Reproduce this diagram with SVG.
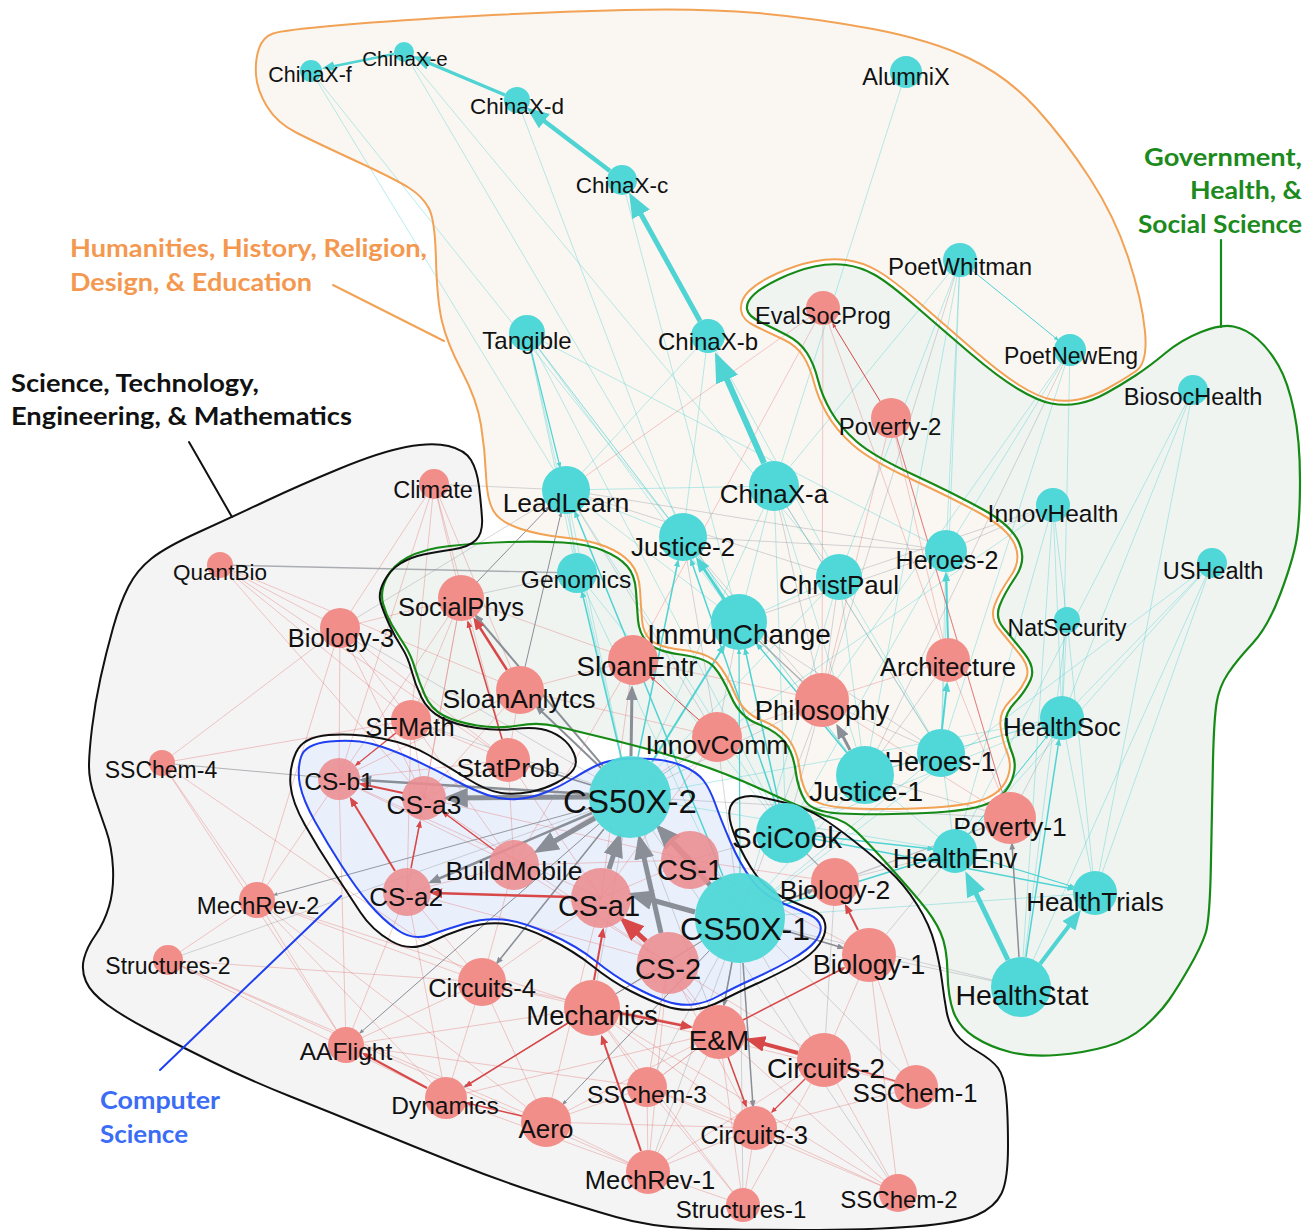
<svg xmlns="http://www.w3.org/2000/svg" xmlns:xlink="http://www.w3.org/1999/xlink" width="1303" height="1230" viewBox="0 0 1303 1230">
<defs>
<marker id="at" viewBox="0 0 10 8" refX="7.5" refY="4" markerWidth="5" markerHeight="4" orient="auto" markerUnits="strokeWidth"><path d="M0,0L10,4L0,8z" fill="#4fd3d3"/></marker>
<marker id="ag" viewBox="0 0 10 8" refX="7.5" refY="4" markerWidth="5" markerHeight="4" orient="auto" markerUnits="strokeWidth"><path d="M0,0L10,4L0,8z" fill="#8a8e96"/></marker>
<marker id="ar" viewBox="0 0 10 8" refX="7.5" refY="4" markerWidth="5" markerHeight="4" orient="auto" markerUnits="strokeWidth"><path d="M0,0L10,4L0,8z" fill="#d84848"/></marker>
<path id="p-hum" d="M273,33.5 Q283,30 341.5,25 Q400,20 475,16 Q550,12 625,10 Q700,8 757.5,13 Q815,18 873,29 Q931,40 969.5,58.5 Q1008,77 1036.5,108.5 Q1065,140 1090,178.5 Q1115,217 1128.5,258.5 Q1142,300 1145,331.5 Q1148,363 1135.5,371.5 Q1123,380 1107.5,388.5 Q1092,397 1078.5,399.5 Q1065,402 1051.5,399.5 Q1038,397 1019,385 Q1000,373 973,349.5 Q946,326 919,302.5 Q892,279 877,270.5 Q862,262 846.5,260 Q831,258 813.5,261.5 Q796,265 777,273.5 Q758,282 749,291 Q740,300 741,310 Q742,320 756,326.5 Q770,333 783.5,339.5 Q797,346 803.5,356.5 Q810,367 814,382.5 Q818,398 827,414 Q836,430 853,445 Q870,460 911,479 Q952,498 979.5,513 Q1007,528 1014.5,544 Q1022,560 1010.5,576.5 Q999,593 994.5,605.5 Q990,618 999,629 Q1008,640 1019.5,654 Q1031,668 1026,679 Q1021,690 1010,701 Q999,712 1000.5,726 Q1002,740 1007.5,753.5 Q1013,767 1006,781 Q999,795 979,801 Q959,807 914,808.5 Q869,810 842,807.5 Q815,805 808.5,796 Q802,787 799.5,768.5 Q797,750 788,738.5 Q779,727 761,720 Q743,713 734.5,693 Q726,673 717,663 Q708,653 683,650 Q658,647 650.5,640 Q643,633 642,620 Q641,607 640,590 Q639,573 630.5,563 Q622,553 605.5,546.5 Q589,540 564,537.5 Q539,535 519.5,528.5 Q500,522 493.5,511 Q487,500 486,475 Q485,450 481,425 Q477,400 462,371.5 Q447,343 442,321.5 Q437,300 436,260 Q435,220 429,208.5 Q423,197 410,188.5 Q397,180 357,161.5 Q317,143 297,133 Q277,123 267,106.5 Q257,90 256,75 Q255,60 259,48.5 Q263,37 273,33.5 Z"/>
<path id="p-gov" d="M557.5,726.5 Q539,722 518.5,725.5 Q498,729 477,725.5 Q456,722 443.5,715.5 Q431,709 425,695.5 Q419,682 415,668.5 Q411,655 404.5,645 Q398,635 392,625 Q386,615 383,603.5 Q380,592 386,579 Q392,566 407.5,557.5 Q423,549 450,546 Q477,543 508,542 Q539,541 563,542.5 Q587,544 603,550.5 Q619,557 627,566 Q635,575 636,591 Q637,607 638,620 Q639,633 647,642 Q655,651 680.5,654.5 Q706,658 714,667 Q722,676 731,696.5 Q740,717 758,724 Q776,731 784.5,741.5 Q793,752 795.5,770.5 Q798,789 805,800.5 Q812,812 840.5,813.5 Q869,815 914.5,813.5 Q960,812 981,806 Q1002,800 1010,784 Q1018,768 1012.5,754 Q1007,740 1005.5,727 Q1004,714 1014.5,703 Q1025,692 1030.5,680 Q1036,668 1024,653 Q1012,638 1003.5,628 Q995,618 999.5,606 Q1004,594 1015.5,577 Q1027,560 1019,542.5 Q1011,525 983,509.5 Q955,494 914,475 Q873,456 856.5,441.5 Q840,427 831,411.5 Q822,396 818,380 Q814,364 807,353 Q800,342 786.5,335 Q773,328 760.5,322 Q748,316 747,309 Q746,302 754,294.5 Q762,287 780,278.5 Q798,270 814.5,266.5 Q831,263 846,265 Q861,267 875,275 Q889,283 916,306.5 Q943,330 970.5,353.5 Q998,377 1018,389 Q1038,401 1051.5,403.5 Q1065,406 1078.5,403.5 Q1092,401 1106.5,393 Q1121,385 1135.5,375.5 Q1150,366 1165.5,353 Q1181,340 1201,332 Q1221,324 1233.5,326.5 Q1246,329 1257.5,339 Q1269,349 1278.5,365.5 Q1288,382 1294,411 Q1300,440 1300,480 Q1300,520 1296.5,540 Q1293,560 1280.5,593.5 Q1268,627 1252.5,643.5 Q1237,660 1228,673.5 Q1219,687 1216.5,703.5 Q1214,720 1213,760 Q1212,800 1211,860 Q1210,920 1205.5,933.5 Q1201,947 1189.5,967 Q1178,987 1169,1000 Q1160,1013 1144.5,1026.5 Q1129,1040 1106.5,1046.5 Q1084,1053 1057,1055 Q1030,1057 1010,1052 Q990,1047 974.5,1037 Q959,1027 953.5,1012 Q948,997 947.5,972 Q947,947 940.5,932.5 Q934,918 920.5,902 Q907,886 889.5,866.5 Q872,847 858.5,833.5 Q845,820 830,817 Q815,814 769.5,793 Q724,772 687,760.5 Q650,749 613,740 Q576,731 557.5,726.5 Z"/>
<path id="p-stem" d="M199,532 Q232,517 266,501 Q300,485 340,468.5 Q380,452 406,447 Q432,442 448.5,446 Q465,450 471,460 Q477,470 479,486.5 Q481,503 482,518 Q483,533 476,540 Q469,547 452.5,549.5 Q436,552 423.5,554.5 Q411,557 400.5,563.5 Q390,570 384,581.5 Q378,593 380.5,602 Q383,611 389,624 Q395,637 401.5,647 Q408,657 411.5,670.5 Q415,684 421.5,697.5 Q428,711 442,718 Q456,725 477,728 Q498,731 514,729 Q530,727 541,729 Q552,731 561,737.5 Q570,744 574,753.5 Q578,763 573.5,769.5 Q569,776 557,782.5 Q545,789 530,792 Q515,795 501,793 Q487,791 467,778.5 Q447,766 428.5,755 Q410,744 382,738.5 Q354,733 328.5,735 Q303,737 296,752.5 Q289,768 290.5,785 Q292,802 305,825 Q318,848 333.5,871.5 Q349,895 360.5,912.5 Q372,930 391,941 Q410,952 428.5,943 Q447,934 465.5,928 Q484,922 502.5,923.5 Q521,925 547.5,938 Q574,951 592.5,966 Q611,981 630.5,991 Q650,1001 665,1006 Q680,1011 694,1009.5 Q708,1008 721,1001 Q734,994 756,984 Q778,974 795,964.5 Q812,955 819.5,944 Q827,933 825,923.5 Q823,914 811.5,909.5 Q800,905 783.5,897.5 Q767,890 756,875 Q745,860 736.5,840 Q728,820 729.5,810.5 Q731,801 739.5,798 Q748,795 757,796.5 Q766,798 786,803 Q806,808 820.5,817 Q835,826 854,841 Q873,856 888.5,870 Q904,884 917,904.5 Q930,925 935,945 Q940,965 942,981 Q944,997 946.5,1011 Q949,1025 956,1034 Q963,1043 977.5,1051.5 Q992,1060 998,1068 Q1004,1076 1006,1094.5 Q1008,1113 1008,1146.5 Q1008,1180 1001.5,1193.5 Q995,1207 977,1215 Q959,1223 914,1226.5 Q869,1230 802,1230 Q735,1230 693,1228.5 Q651,1227 616,1217 Q581,1207 539.5,1193.5 Q498,1180 456.5,1163.5 Q415,1147 373.5,1130 Q332,1113 290.5,1096.5 Q249,1080 211.5,1061.5 Q174,1043 149,1030 Q124,1017 107.5,1005 Q91,993 86,981.5 Q81,970 84,958.5 Q87,947 95.5,935 Q104,923 109,906.5 Q114,890 113,868.5 Q112,847 106,830 Q100,813 94.5,796.5 Q89,780 89,766.5 Q89,753 92,728 Q95,703 100.5,678 Q106,653 113,628 Q120,603 128.5,586.5 Q137,570 151.5,558.5 Q166,547 199,532 Z"/>
<path id="p-cs" d="M301,757 Q305,744 329.5,741.5 Q354,739 372.5,744 Q391,749 413.5,759.5 Q436,770 454.5,780 Q473,790 487.5,795 Q502,800 517,799 Q532,798 546.5,792 Q561,786 574,778 Q587,770 596.5,765.5 Q606,761 619,759.5 Q632,758 650.5,759 Q669,760 683,766 Q697,772 703.5,780.5 Q710,789 715.5,804.5 Q721,820 730.5,842 Q740,864 751.5,879.5 Q763,895 781,902.5 Q799,910 809,914.5 Q819,919 820.5,926 Q822,933 815,941.5 Q808,950 791.5,959.5 Q775,969 753,979 Q731,989 718.5,996 Q706,1003 693,1004.5 Q680,1006 665.5,1001 Q651,996 632.5,986 Q614,976 595.5,961 Q577,946 549,933.5 Q521,921 502.5,919.5 Q484,918 465.5,923.5 Q447,929 430,935 Q413,941 397.5,930 Q382,919 369,903.5 Q356,888 341.5,865.5 Q327,843 315,821.5 Q303,800 300,785 Q297,770 301,757 Z"/>
<style>
.nt{fill:#50d7d7}
.ns{fill:#f28e8a}
.nc{fill:#ec8c8f;opacity:.88}
.lb{font-family:"Liberation Sans",Arial,Helvetica,sans-serif;fill:#111;text-anchor:middle}
.ft{stroke:#4fcfcf;stroke-width:.8;opacity:.5;fill:none}
.fr{stroke:#e05c5c;stroke-width:.8;opacity:.4;fill:none}
.fg{stroke:#8c9096;stroke-width:.8;opacity:.45;fill:none}
.pt{stroke:#4fd3d3;fill:none;marker-end:url(#at)}
.pr{stroke:#d84848;fill:none;marker-end:url(#ar)}
.pg{stroke:#8a8e96;fill:none;marker-end:url(#ag)}
.hull{stroke-linejoin:round;stroke-linecap:round}
.rl{font-family:Lato,"Open Sans","Noto Sans",sans-serif;font-weight:bold;font-size:25px}
</style>
</defs>
<rect width="1303" height="1230" fill="#ffffff"/>
<g id="hull-fills" stroke="none">
<use xlink:href="#p-stem" href="#p-stem" fill="#f4f4f4"/>
<use xlink:href="#p-gov" href="#p-gov" fill="#eff4f1"/>
<use xlink:href="#p-hum" href="#p-hum" fill="#faf7f3"/>
<use xlink:href="#p-cs" href="#p-cs" fill="#e9f0fb"/>
</g>
<g id="connectors">
<path class="ft" d="M527 333L683 537M527 333L739 622M527 333L786 833M527 333L577 573M527 333L630 797M527 333L865 775M311 71L566 490M311 71L683 537M404 52L839 577M404 52L739 622M517 100L683 537M622 180L739 622M708 336L839 577M708 336L683 537M708 336L566 490M906 72L774 486M960 260L946 551M960 260L941 753M960 260L774 486M960 260L865 775M960 260L839 577M1070 350L941 753M1070 350L1062 718M1070 350L822 700M1070 350L946 551M1193 390L1062 718M1193 390L955 851M1193 390L1095 893M1053 505L1062 718M1053 505L1067 620M1053 505L955 851M1053 505L1021 987M1212 563L1062 718M1212 563L1095 893M1212 563L955 851M1212 563L1021 987M1067 620L1062 718M1067 620L1021 987M1067 620L1095 893M1062 718L955 851M1062 718L1095 893M1062 718L786 833M683 537L566 490M739 622L566 490M774 486L566 490M630 797L566 490M786 833L566 490M774 486L739 622M839 577L739 622M865 775L774 486M941 753L774 486M630 797L774 486M786 833L774 486M941 753L946 551M941 753L839 577M865 775L683 537M865 775L839 577M740 918L865 775M630 797L955 851M786 833L865 775M865 775L955 851M941 753L1062 718M577 573L566 490M740 918L577 573M786 833L577 573M740 918L839 577M630 797L839 577M941 753L955 851M865 775L941 753M740 918L941 753M786 833L946 551M865 775L1062 718M740 918L1095 893M630 797L1062 718M740 918L1212 563M630 797L1053 505M527 333L946 551"/>
<path class="fr" d="M434 484L340 628M434 484L461 598M434 484L411 720M434 484L508 760M434 484L339 779M434 484L520 690M220 565L340 628M220 565L520 690M220 565L411 720M220 565L424 798M220 565L508 760M340 628L411 720M340 628L339 779M340 628L162 763M340 628L508 760M340 628L461 598M340 628L424 798M340 628L257 900M162 763L411 720M162 763L257 900M162 763L346 1045M162 763L482 982M257 900L339 779M257 900L168 960M257 900L346 1045M257 900L482 982M257 900L446 1098M257 900L592 1008M257 900L546 1122M168 960L446 1098M168 960L546 1122M168 960L648 1172M168 960L482 982M346 1045L407 892M346 1045L592 1008M346 1045L482 982M346 1045L647 1087M346 1045L339 779M446 1098L482 982M446 1098L407 892M446 1098L648 1172M446 1098L719 1032M546 1122L719 1032M546 1122L648 1172M546 1122L755 1128M546 1122L647 1087M546 1122L482 982M546 1122L601 898M648 1172L719 1032M648 1172L743 1205M648 1172L824 1060M648 1172L647 1087M648 1172L755 1128M648 1172L668 963M743 1205L755 1128M743 1205L719 1032M743 1205L592 1008M743 1205L824 1060M743 1205L647 1087M898 1193L824 1060M898 1193L869 955M898 1193L719 1032M898 1193L755 1128M898 1193L592 1008M898 1193L647 1087M916 1087L869 955M916 1087L719 1032M916 1087L755 1128M916 1087L592 1008M755 1128L592 1008M755 1128L668 963M647 1087L592 1008M647 1087L719 1032M647 1087L668 963M647 1087L755 1128M482 982L601 898M482 982L592 1008M482 982L407 892M482 982L719 1032M482 982L514 865M592 1008L668 963M719 1032L668 963M719 1032L601 898M719 1032L647 1087M824 1060L869 955M824 1060L668 963M869 955L740 918M869 955L690 860M835 882L690 860M411 720L339 779M411 720L461 598M411 720L508 760M411 720L424 798M411 720L407 892M411 720L514 865M508 760L520 690M508 760L339 779M508 760L424 798M508 760L514 865M508 760L601 898M461 598L633 660M461 598L339 779M461 598L407 892M461 598L424 798M520 690L633 660M520 690L424 798M520 690L339 779M633 660L601 898M633 660L514 865M717 737L601 898M717 737L514 865M717 737L520 690M822 700L717 737M822 700L633 660M948 660L822 700M1010 818L822 700M1010 818L948 660M1010 818L891 418M891 418L822 700M891 418L948 660M823 308L566 490M823 308L822 700M823 308L633 660M823 308L948 660M601 898L339 779M514 865L339 779M514 865L407 892M690 860L601 898M690 860L514 865M690 860L424 798M668 963L407 892M668 963L424 798M668 963L514 865"/>
<path class="fg" d="M340 628L630 797M340 628L566 490M434 484L566 490M577 573L461 598M566 490L946 551M683 537L946 551M774 486L941 753M960 260L822 700M1070 350L865 775M1053 505L946 551M1053 505L839 577M822 700L774 486M822 700L683 537M717 737L739 622M717 737L683 537M717 737L566 490M630 797L717 737M740 918L717 737M740 918L822 700M630 797L822 700M786 833L822 700M786 833L690 860M740 918L1010 818M630 797L1010 818M869 955L1021 987M740 918L1021 987M835 882L955 851M869 955L955 851M835 882L1010 818M824 1060L835 882M719 1032L740 918M592 1008L740 918M740 918L647 1087M740 918L824 1060M740 918L648 1172M630 797L592 1008M630 797L411 720M630 797L168 960M740 918L743 1205M630 797L755 1128M941 753L822 700M941 753L739 622M865 775L1010 818M1062 718L1010 818M865 775L948 660M946 551L739 622M839 577L822 700M566 490L839 577M630 797L898 1193M630 797L916 1087"/>
<line x1="220" y1="565" x2="577" y2="573" stroke="#8c9096" stroke-width="1.3" opacity=".7"/>
<line x1="162" y1="763" x2="339" y2="779" stroke="#8c9096" stroke-width="1.1" opacity=".65"/>
<line x1="822" y1="700" x2="739" y2="622" stroke="#8c9096" stroke-width="1.4" opacity=".7"/>
<line x1="786" y1="833" x2="835" y2="882" stroke="#8c9096" stroke-width="1.3" opacity=".7"/>
<g id="teal-edges">
<line class="pt" x1="764" y1="463" x2="718" y2="359" stroke-width="6"/>
<line class="pt" x1="700" y1="321" x2="632" y2="198" stroke-width="5"/>
<line class="pt" x1="610" y1="171" x2="531" y2="111" stroke-width="4.5"/>
<line class="pt" x1="505" y1="95" x2="417" y2="58" stroke-width="3.5"/>
<line class="pt" x1="394" y1="54" x2="325" y2="68" stroke-width="2.5"/>
<line class="pt" x1="1008" y1="960" x2="968" y2="877" stroke-width="5"/>
<line class="pt" x1="1040" y1="964" x2="1078" y2="914" stroke-width="4"/>
<line class="pt" x1="1026" y1="957" x2="1059" y2="740" stroke-width="1.5"/>
<line class="pt" x1="724" y1="599" x2="698" y2="560" stroke-width="3"/>
<line class="pt" x1="948" y1="638" x2="946" y2="574" stroke-width="2"/>
<line class="pt" x1="942" y1="729" x2="947" y2="684" stroke-width="2"/>
<line class="pt" x1="531" y1="350" x2="560" y2="467" stroke-width="1.2"/>
<line class="pt" x1="652" y1="762" x2="724" y2="646" stroke-width="2"/>
<line class="pt" x1="847" y1="753" x2="757" y2="644" stroke-width="1.5"/>
<line class="pt" x1="638" y1="757" x2="678" y2="561" stroke-width="1.5"/>
<line class="pt" x1="783" y1="905" x2="934" y2="858" stroke-width="1.5"/>
<line class="pt" x1="815" y1="839" x2="1073" y2="889" stroke-width="1.5"/>
<line class="pt" x1="816" y1="836" x2="933" y2="849" stroke-width="1.5"/>
<line class="pt" x1="973" y1="271" x2="1058" y2="340" stroke-width="1"/>
<line class="pt" x1="723" y1="876" x2="575" y2="512" stroke-width="1.5"/>
<line class="pt" x1="621" y1="757" x2="582" y2="592" stroke-width="1.5"/>
<line class="pt" x1="776" y1="805" x2="691" y2="560" stroke-width="1.5"/>
<line class="pt" x1="779" y1="804" x2="745" y2="649" stroke-width="1.5"/>
<line class="pt" x1="976" y1="857" x2="1074" y2="887" stroke-width="1.2"/>
<line class="pt" x1="740" y1="873" x2="739" y2="650" stroke-width="1.2"/>
<line class="pt" x1="969" y1="834" x2="1048" y2="735" stroke-width="1"/>
</g>
<g id="gray-edges">
<line class="pg" x1="589" y1="797" x2="449" y2="798" stroke-width="5"/>
<line class="pg" x1="589" y1="794" x2="362" y2="780" stroke-width="2.5"/>
<line class="pg" x1="595" y1="818" x2="539" y2="850" stroke-width="5"/>
<line class="pg" x1="592" y1="813" x2="431" y2="882" stroke-width="2.5"/>
<line class="pg" x1="690" y1="860" x2="660" y2="829" stroke-width="5"/>
<line class="pg" x1="609" y1="869" x2="619" y2="838" stroke-width="5"/>
<line class="pg" x1="710" y1="885" x2="660" y2="829" stroke-width="5"/>
<line class="pg" x1="661" y1="933" x2="640" y2="840" stroke-width="5"/>
<line class="pg" x1="695" y1="912" x2="634" y2="895" stroke-width="5"/>
<line class="pg" x1="850" y1="750" x2="838" y2="727" stroke-width="3"/>
<line class="pg" x1="631" y1="756" x2="632" y2="689" stroke-width="3"/>
<line class="pg" x1="603" y1="766" x2="476" y2="616" stroke-width="2"/>
<line class="pg" x1="601" y1="768" x2="537" y2="707" stroke-width="2"/>
<line class="pg" x1="599" y1="824" x2="360" y2="1033" stroke-width="1"/>
<line class="pg" x1="590" y1="808" x2="274" y2="895" stroke-width=".9"/>
<line class="pg" x1="604" y1="829" x2="497" y2="963" stroke-width="1.5"/>
<line class="pg" x1="743" y1="963" x2="753" y2="1106" stroke-width="1.5"/>
<line class="pg" x1="709" y1="951" x2="563" y2="1104" stroke-width="1"/>
<line class="pg" x1="702" y1="941" x2="464" y2="1087" stroke-width="1"/>
<line class="pg" x1="782" y1="902" x2="813" y2="890" stroke-width="1.5"/>
<line class="pg" x1="783" y1="930" x2="843" y2="948" stroke-width="1.5"/>
<line class="pg" x1="1019" y1="957" x2="1012" y2="844" stroke-width="1.5"/>
<line class="pg" x1="477" y1="582" x2="549" y2="507" stroke-width="1"/>
<line class="pg" x1="525" y1="667" x2="561" y2="513" stroke-width="1"/>
<line class="pg" x1="591" y1="785" x2="529" y2="766" stroke-width="1.5"/>
<line class="pg" x1="732" y1="962" x2="724" y2="1005" stroke-width="1.5"/>
</g>
<g id="red-edges">
<line class="pr" x1="798" y1="1053" x2="750" y2="1040" stroke-width="4"/>
<line class="pr" x1="646" y1="941" x2="624" y2="921" stroke-width="5"/>
<line class="pr" x1="594" y1="980" x2="603" y2="930" stroke-width="2"/>
<line class="pr" x1="641" y1="1151" x2="602" y2="1037" stroke-width="2"/>
<line class="pr" x1="427" y1="1088" x2="364" y2="1054" stroke-width="2"/>
<line class="pr" x1="568" y1="1023" x2="466" y2="1086" stroke-width="1.5"/>
<line class="pr" x1="858" y1="930" x2="846" y2="906" stroke-width="2"/>
<line class="pr" x1="502" y1="739" x2="468" y2="622" stroke-width="1.5"/>
<line class="pr" x1="507" y1="670" x2="475" y2="620" stroke-width="2.5"/>
<line class="pr" x1="699" y1="720" x2="651" y2="677" stroke-width="1"/>
<line class="pr" x1="571" y1="897" x2="433" y2="893" stroke-width="2.5"/>
<line class="pr" x1="395" y1="871" x2="351" y2="799" stroke-width="2"/>
<line class="pr" x1="411" y1="868" x2="420" y2="822" stroke-width="1.5"/>
<line class="pr" x1="403" y1="793" x2="361" y2="784" stroke-width="2"/>
<line class="pr" x1="620" y1="1013" x2="690" y2="1027" stroke-width="2.5"/>
<line class="pr" x1="880" y1="401" x2="833" y2="324" stroke-width="1"/>
<line class="pr" x1="522" y1="1116" x2="467" y2="1103" stroke-width="1.5"/>
<line class="pr" x1="728" y1="1057" x2="746" y2="1106" stroke-width="1.5"/>
<line class="pr" x1="805" y1="1079" x2="772" y2="1112" stroke-width="1.2"/>
<line class="pr" x1="743" y1="1020" x2="844" y2="968" stroke-width="1.5"/>
<line class="pr" x1="396" y1="733" x2="356" y2="765" stroke-width="1.2"/>
<line class="pr" x1="494" y1="850" x2="443" y2="812" stroke-width="1.5"/>
<line x1="916" y1="1087" x2="824" y2="1060" stroke="#d84848" stroke-width="1.5" opacity=".8"/>
<line x1="1010" y1="818" x2="891" y2="418" stroke="#d84848" stroke-width=".8" opacity=".7"/>
</g>
</g>
<g id="hull-strokes" class="hull" fill="none">
<use xlink:href="#p-hum" href="#p-hum" stroke="#f2a255" stroke-width="2"/>
<use xlink:href="#p-gov" href="#p-gov" stroke="#168a16" stroke-width="2.2"/>
<use xlink:href="#p-stem" href="#p-stem" stroke="#111" stroke-width="2"/>
<use xlink:href="#p-cs" href="#p-cs" stroke="#1f3ff0" stroke-width="2"/>
<line x1="333" y1="285" x2="444" y2="341" stroke="#f2a255" stroke-width="2"/>
<line x1="189" y1="442" x2="232" y2="517" stroke="#111" stroke-width="2"/>
<line x1="1221" y1="240" x2="1221" y2="327" stroke="#168a16" stroke-width="2.2"/>
<line x1="160" y1="1070" x2="341" y2="896" stroke="#1f3ff0" stroke-width="2"/>
</g>
<g id="nodes">
<g id="node-ChinaX-f"><circle class="nt" cx="311" cy="71" r="11"/><text class="lb" x="310" y="82" font-size="21.5">ChinaX-f</text></g>
<g id="node-ChinaX-e"><circle class="nt" cx="404" cy="52" r="10"/><text class="lb" x="405" y="66" font-size="20.5">ChinaX-e</text></g>
<g id="node-ChinaX-d"><circle class="nt" cx="517" cy="100" r="13"/><text class="lb" x="517" y="114" font-size="22.5">ChinaX-d</text></g>
<g id="node-ChinaX-c"><circle class="nt" cx="622" cy="180" r="15"/><text class="lb" x="622" y="193" font-size="22.5">ChinaX-c</text></g>
<g id="node-ChinaX-b"><circle class="nt" cx="708" cy="336" r="17"/><text class="lb" x="708" y="350" font-size="24">ChinaX-b</text></g>
<g id="node-ChinaX-a"><circle class="nt" cx="774" cy="486" r="25"/><text class="lb" x="774" y="503" font-size="26">ChinaX-a</text></g>
<g id="node-Tangible"><circle class="nt" cx="527" cy="333" r="18"/><text class="lb" x="527" y="349" font-size="24">Tangible</text></g>
<g id="node-AlumniX"><circle class="nt" cx="906" cy="72" r="16"/><text class="lb" x="906" y="85" font-size="23.5">AlumniX</text></g>
<g id="node-PoetWhitman"><circle class="nt" cx="960" cy="260" r="17"/><text class="lb" x="960" y="275" font-size="24">PoetWhitman</text></g>
<g id="node-PoetNewEng"><circle class="nt" cx="1070" cy="350" r="16"/><text class="lb" x="1071" y="364" font-size="23">PoetNewEng</text></g>
<g id="node-EvalSocProg"><circle class="ns" cx="823" cy="308" r="17"/><text class="lb" x="823" y="324" font-size="23.5">EvalSocProg</text></g>
<g id="node-Poverty-2"><circle class="ns" cx="891" cy="418" r="20"/><text class="lb" x="890" y="435" font-size="24">Poverty-2</text></g>
<g id="node-BiosocHealth"><circle class="nt" cx="1193" cy="390" r="15"/><text class="lb" x="1193" y="405" font-size="23.5">BiosocHealth</text></g>
<g id="node-LeadLearn"><circle class="nt" cx="566" cy="490" r="24"/><text class="lb" x="566" y="512" font-size="26.5">LeadLearn</text></g>
<g id="node-Justice-2"><circle class="nt" cx="683" cy="537" r="24"/><text class="lb" x="683" y="556" font-size="26">Justice-2</text></g>
<g id="node-InnovHealth"><circle class="nt" cx="1053" cy="505" r="17"/><text class="lb" x="1053" y="522" font-size="24.5">InnovHealth</text></g>
<g id="node-Heroes-2"><circle class="nt" cx="946" cy="551" r="21"/><text class="lb" x="947" y="569" font-size="25">Heroes-2</text></g>
<g id="node-ChristPaul"><circle class="nt" cx="839" cy="577" r="23"/><text class="lb" x="839" y="594" font-size="26">ChristPaul</text></g>
<g id="node-USHealth"><circle class="nt" cx="1212" cy="563" r="15"/><text class="lb" x="1213" y="579" font-size="23.5">USHealth</text></g>
<g id="node-Genomics"><circle class="nt" cx="577" cy="573" r="20"/><text class="lb" x="576" y="588" font-size="24.5">Genomics</text></g>
<g id="node-SocialPhys"><circle class="ns" cx="461" cy="598" r="23"/><text class="lb" x="461" y="616" font-size="25.5">SocialPhys</text></g>
<g id="node-Biology-3"><circle class="ns" cx="340" cy="628" r="20"/><text class="lb" x="341" y="647" font-size="25.5">Biology-3</text></g>
<g id="node-ImmunChange"><circle class="nt" cx="739" cy="622" r="28"/><text class="lb" x="739" y="644" font-size="28">ImmunChange</text></g>
<g id="node-NatSecurity"><circle class="nt" cx="1067" cy="620" r="13"/><text class="lb" x="1067" y="636" font-size="23">NatSecurity</text></g>
<g id="node-SloanEntr"><circle class="ns" cx="633" cy="660" r="25"/><text class="lb" x="637" y="676" font-size="27.5">SloanEntr</text></g>
<g id="node-Architecture"><circle class="ns" cx="948" cy="660" r="22"/><text class="lb" x="948" y="676" font-size="25.5">Architecture</text></g>
<g id="node-SloanAnlytcs"><circle class="ns" cx="520" cy="690" r="24"/><text class="lb" x="519" y="708" font-size="26.5">SloanAnlytcs</text></g>
<g id="node-Philosophy"><circle class="ns" cx="822" cy="700" r="27"/><text class="lb" x="822" y="720" font-size="27.5">Philosophy</text></g>
<g id="node-HealthSoc"><circle class="nt" cx="1062" cy="718" r="22"/><text class="lb" x="1062" y="736" font-size="25.5">HealthSoc</text></g>
<g id="node-SFMath"><circle class="ns" cx="411" cy="720" r="20"/><text class="lb" x="410" y="736" font-size="25.5">SFMath</text></g>
<g id="node-InnovComm"><circle class="ns" cx="717" cy="737" r="25"/><text class="lb" x="717" y="754" font-size="26.5">InnovComm</text></g>
<g id="node-SSChem-4"><circle class="ns" cx="162" cy="763" r="13"/><text class="lb" x="161" y="778" font-size="23">SSChem-4</text></g>
<g id="node-StatProb"><circle class="ns" cx="508" cy="760" r="22"/><text class="lb" x="508" y="777" font-size="26.5">StatProb</text></g>
<g id="node-Heroes-1"><circle class="nt" cx="941" cy="753" r="24"/><text class="lb" x="940" y="771" font-size="27">Heroes-1</text></g>
<g id="node-Justice-1"><circle class="nt" cx="865" cy="775" r="29"/><text class="lb" x="866" y="801" font-size="28.5">Justice-1</text></g>
<g id="node-CS-b1"><circle class="nc" cx="339" cy="779" r="21"/><text class="lb" x="339" y="790" font-size="24.5">CS-b1</text></g>
<g id="node-CS-a3"><circle class="nc" cx="424" cy="798" r="22"/><text class="lb" x="424" y="814" font-size="26.5">CS-a3</text></g>
<g id="node-CS50X-2"><circle class="nt" cx="630" cy="797" r="41" opacity=".95"/><text class="lb" x="630" y="813" font-size="33">CS50X-2</text></g>
<g id="node-Poverty-1"><circle class="ns" cx="1010" cy="818" r="26"/><text class="lb" x="1010" y="836" font-size="26.5">Poverty-1</text></g>
<g id="node-SciCook"><circle class="nt" cx="786" cy="833" r="30"/><text class="lb" x="787" y="848" font-size="29.5">SciCook</text></g>
<g id="node-HealthEnv"><circle class="nt" cx="955" cy="851" r="22"/><text class="lb" x="955" y="868" font-size="27">HealthEnv</text></g>
<g id="node-CS-1"><circle class="nc" cx="690" cy="860" r="29"/><text class="lb" x="690" y="880" font-size="29">CS-1</text></g>
<g id="node-BuildMobile"><circle class="nc" cx="514" cy="865" r="25"/><text class="lb" x="514" y="880" font-size="26.5">BuildMobile</text></g>
<g id="node-CS-a2"><circle class="nc" cx="407" cy="892" r="24"/><text class="lb" x="406" y="906" font-size="26">CS-a2</text></g>
<g id="node-Biology-2"><circle class="ns" cx="835" cy="882" r="24"/><text class="lb" x="835" y="899" font-size="26.5">Biology-2</text></g>
<g id="node-CS-a1"><circle class="nc" cx="601" cy="898" r="30"/><text class="lb" x="599" y="916" font-size="29">CS-a1</text></g>
<g id="node-HealthTrials"><circle class="nt" cx="1095" cy="893" r="22"/><text class="lb" x="1095" y="911" font-size="26">HealthTrials</text></g>
<g id="node-MechRev-2"><circle class="ns" cx="257" cy="900" r="18"/><text class="lb" x="258" y="914" font-size="24">MechRev-2</text></g>
<g id="node-CS50X-1"><circle class="nt" cx="740" cy="918" r="45" opacity=".95"/><text class="lb" x="745" y="940" font-size="32">CS50X-1</text></g>
<g id="node-Structures-2"><circle class="ns" cx="168" cy="960" r="15"/><text class="lb" x="168" y="974" font-size="23">Structures-2</text></g>
<g id="node-CS-2"><circle class="nc" cx="668" cy="963" r="31"/><text class="lb" x="668" y="979" font-size="29">CS-2</text></g>
<g id="node-Biology-1"><circle class="ns" cx="869" cy="955" r="27"/><text class="lb" x="869" y="974" font-size="27">Biology-1</text></g>
<g id="node-Circuits-4"><circle class="ns" cx="482" cy="982" r="24"/><text class="lb" x="482" y="997" font-size="25.5">Circuits-4</text></g>
<g id="node-HealthStat"><circle class="nt" cx="1021" cy="987" r="30"/><text class="lb" x="1022" y="1005" font-size="28.5">HealthStat</text></g>
<g id="node-Mechanics"><circle class="ns" cx="592" cy="1008" r="28"/><text class="lb" x="592" y="1025" font-size="27.5">Mechanics</text></g>
<g id="node-EM"><circle class="ns" cx="719" cy="1032" r="27"/><text class="lb" x="719" y="1050" font-size="28">E&amp;M</text></g>
<g id="node-AAFlight"><circle class="ns" cx="346" cy="1045" r="18"/><text class="lb" x="346" y="1060" font-size="24.5">AAFlight</text></g>
<g id="node-Circuits-2"><circle class="ns" cx="824" cy="1060" r="27"/><text class="lb" x="826" y="1078" font-size="28">Circuits-2</text></g>
<g id="node-SSChem-3"><circle class="ns" cx="647" cy="1087" r="20"/><text class="lb" x="647" y="1103" font-size="24.5">SSChem-3</text></g>
<g id="node-SSChem-1"><circle class="ns" cx="916" cy="1087" r="22"/><text class="lb" x="915" y="1102" font-size="25.5">SSChem-1</text></g>
<g id="node-Dynamics"><circle class="ns" cx="446" cy="1098" r="21"/><text class="lb" x="445" y="1114" font-size="24.5">Dynamics</text></g>
<g id="node-Aero"><circle class="ns" cx="546" cy="1122" r="25"/><text class="lb" x="546" y="1138" font-size="26">Aero</text></g>
<g id="node-Circuits-3"><circle class="ns" cx="755" cy="1128" r="22"/><text class="lb" x="754" y="1144" font-size="25.5">Circuits-3</text></g>
<g id="node-MechRev-1"><circle class="ns" cx="648" cy="1172" r="22"/><text class="lb" x="650" y="1189" font-size="25.5">MechRev-1</text></g>
<g id="node-Structures-1"><circle class="ns" cx="743" cy="1205" r="17"/><text class="lb" x="741" y="1218" font-size="24">Structures-1</text></g>
<g id="node-SSChem-2"><circle class="ns" cx="898" cy="1193" r="19"/><text class="lb" x="899" y="1208" font-size="24">SSChem-2</text></g>
<g id="node-QuantBio"><circle class="ns" cx="220" cy="565" r="13"/><text class="lb" x="220" y="580" font-size="22.5">QuantBio</text></g>
<g id="node-Climate"><circle class="ns" cx="434" cy="484" r="15"/><text class="lb" x="433" y="498" font-size="23.5">Climate</text></g>
</g>
<g id="region-labels" class="rl">
<text x="70" y="257" fill="#f4984f" textLength="357" lengthAdjust="spacingAndGlyphs">Humanities, History, Religion,</text>
<text x="70" y="291" fill="#f4984f" textLength="242" lengthAdjust="spacingAndGlyphs">Design, &amp; Education</text>
<text x="11" y="392" fill="#111" textLength="248" lengthAdjust="spacingAndGlyphs">Science, Technology,</text>
<text x="11" y="425" fill="#111" textLength="341" lengthAdjust="spacingAndGlyphs">Engineering, &amp; Mathematics</text>
<text x="1144" y="166" fill="#1c8a1c" textLength="158" lengthAdjust="spacingAndGlyphs">Government,</text>
<text x="1190" y="199" fill="#1c8a1c" textLength="112" lengthAdjust="spacingAndGlyphs">Health, &amp;</text>
<text x="1138" y="233" fill="#1c8a1c" textLength="164" lengthAdjust="spacingAndGlyphs">Social Science</text>
<text x="100" y="1109" fill="#3b6cf5" textLength="120" lengthAdjust="spacingAndGlyphs">Computer</text>
<text x="100" y="1143" fill="#3b6cf5" textLength="88" lengthAdjust="spacingAndGlyphs">Science</text>
</g>
</svg>
